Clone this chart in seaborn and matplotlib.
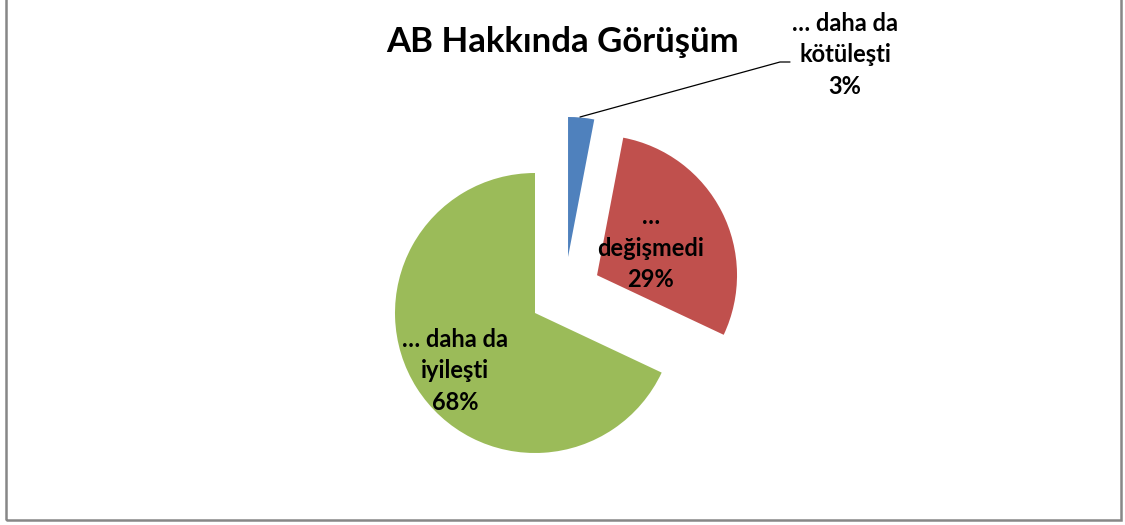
import matplotlib
matplotlib.use('Agg')
import matplotlib.pyplot as plt
import seaborn as sns
from matplotlib.patches import Rectangle
from matplotlib.lines import Line2D

# data
title = 'AB Hakkında Görüşüm'
labels = ['… daha da\nkötüleşti', '…\ndeğişmedi', '… daha da\niyileşti']
shares = [3, 29, 68]
colors = ['#4F81BD', '#C0504D', '#9BBB59']

W, H = 1125, 525
R = 140            # pie radius in px
cx, cy = 535, 313  # pie centre, px from top-left


def px(x, y):
    """pixel (from top-left) -> figure fraction"""
    return x / W, 1 - y / H


sns.set_theme(style='white')
plt.rcParams['font.family'] = ['Lato', 'DejaVu Sans']

fig = plt.figure(figsize=(W / 100, H / 100), dpi=100)
ax = fig.add_axes([0, 0, 1, 1])

wedges, _ = ax.pie(shares, colors=sns.color_palette(colors), startangle=90,
                   counterclock=False, radius=1, wedgeprops={'linewidth': 0})
# slices pulled out the way Excel drew them (in radius units)
offsets = [(0.236, 0.40), (0.443, 0.27), (0, 0)]
for w, (dx, dy) in zip(wedges, offsets):
    w.set_center((dx, dy))

ax.set_xlim(-cx / R, (W - cx) / R)
ax.set_ylim(-(H - cy) / R, cy / R)
ax.set_aspect('equal')
ax.axis('off')

fig.text(*px(563, 42), title, ha='center', va='center',
         fontsize=25, fontweight='bold', color='black')

label_pos = [(845, 55), (651, 248), (455, 371)]
for lab, s, (x, y) in zip(labels, shares, label_pos):
    fig.text(*px(x, y), f'{lab}\n{s}%', ha='center', va='center',
             fontsize=17, fontweight='bold', color='black', linespacing=1.45)

# leader line for the small slice
lx, ly = zip(px(580, 117), px(780, 62), px(790, 62))
fig.lines.append(Line2D(lx, ly, transform=fig.transFigure, color='black', lw=0.9))

# chart border
x0, y0 = px(6, 520)
fig.patches.append(Rectangle((x0, y0), (1121 - 6) / W, 1.2, transform=fig.transFigure,
                             fill=False, edgecolor='#878787', lw=1.8))

fig.savefig('out.png', dpi=100)
